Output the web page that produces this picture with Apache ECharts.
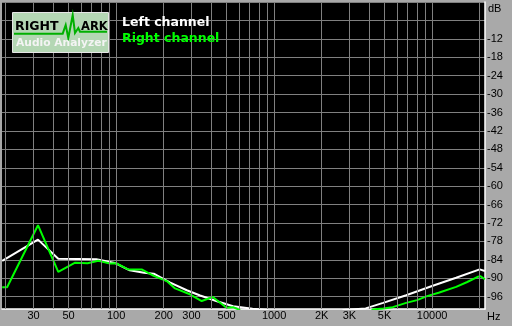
<!DOCTYPE html>
<html><head><meta charset="utf-8">
<script src="https://cdn.jsdelivr.net/npm/echarts@6/dist/echarts.min.js"></script>
<style>html,body{margin:0;padding:0;background:#a9a9a9}#c{width:512px;height:326px}</style>
</head><body><div id="c"></div>
<script>
// Left channel (white); values below -100 fall off the bottom of the plot
var leftFreq = [19, 32, 43, 75, 98, 122, 150, 173, 220, 280, 340, 430, 550, 730, 900, 1100, 2500, 2750, 3800, 4900, 6860, 10000, 14200, 20000, 21600];
var leftDb   = [-84.3, -77.4, -83.6, -83.8, -85.0, -87.4, -88.2, -88.5, -91.4, -93.9, -95.6, -97.4, -99.1, -99.9, -100.3, -103, -103, -100.3, -99.8, -98.0, -95.5, -92.5, -89.8, -87.1, -87.6];
// Right channel (green)
var rightFreq = [19, 20.4, 32, 43, 55, 66, 77, 91.5, 100, 119, 145, 173, 209, 236, 293, 348, 409, 500, 550, 598, 700, 3900, 4200, 4900, 5640, 6860, 8030, 9300, 11000, 14200, 16700, 19300, 20200, 21600];
var rightDb   = [-92.9, -92.9, -72.7, -87.9, -84.9, -85.1, -84.3, -85.2, -85.1, -87.1, -87.1, -89.2, -90.9, -93.3, -95.2, -97.4, -96.1, -99.6, -99.4, -100.2, -103, -103, -100.2, -99.8, -99.4, -98.0, -97.1, -95.8, -94.7, -92.8, -91.2, -89.6, -89.3, -90.3];
// axes
var xGridValues = [20,30,40,50,60,70,80,90,100,200,300,400,500,600,700,800,900,1000,2000,3000,4000,5000,6000,7000,8000,9000,10000,20000];
var xLabelValues = [30,50,100,200,300,500,1000,2000,3000,5000,10000];
var yGridValues = [0,-6,-12,-18,-24,-30,-36,-42,-48,-54,-60,-66,-72,-78,-84,-90,-96];
var yLabelValues = [-12,-18,-24,-30,-36,-42,-48,-54,-60,-66,-72,-78,-84,-90,-96];
var seriesNames = ['Left channel', 'Right channel'];

function pairs(f, v){ return f.map(function(x,i){ return [x, v[i]]; }); }
function xFmt(v){ if (v >= 2000 && v < 10000) return (v/1000) + 'K'; return String(v); }

var chart = echarts.init(document.getElementById('c'), null, {renderer:'canvas'});
var lblFont = {fontFamily:'Liberation Sans', fontSize:11, color:'#000'};
var gridStyle = {color:'#808080', width:1, type:'solid'};
chart.setOption({
  backgroundColor:'#a9a9a9',
  animation:false,
  grid:{left:2, top:2, right:27, bottom:17, show:true, backgroundColor:'#000', borderWidth:0},
  xAxis:{type:'log', logBase:10, min:18.94, max:21630,
    name:'Hz', nameLocation:'end', nameGap:2,
    nameTextStyle:{fontFamily:'Liberation Sans', fontSize:11, color:'#000', align:'left', verticalAlign:'top', padding:[2,0,0,0]},
    axisLine:{show:true, onZero:false, lineStyle:{color:'#fff', width:1.5}},
    axisTick:{show:false},
    axisLabel:Object.assign({customValues:xLabelValues, margin:1, formatter:xFmt}, lblFont),
    splitLine:{show:false},
    minorSplitLine:{show:false}
  },
  yAxis:{type:'value', min:-100, max:0, position:'right',
    name:'dB', nameLocation:'end', nameGap:0,
    nameTextStyle:{fontFamily:'Liberation Sans', fontSize:11, color:'#000', align:'left', verticalAlign:'top', padding:[1,0,0,3]},
    axisLine:{show:true, lineStyle:{color:'#fff', width:1.5}},
    axisTick:{show:false, customValues:yGridValues},
    axisLabel:Object.assign({customValues:yLabelValues, margin:2, formatter:function(v){return String(v);}}, lblFont),
    splitLine:{show:true, lineStyle:gridStyle}
  },
  graphic:[
    {type:'rect', shape:{x:12.5, y:12.5, width:96, height:40}, style:{fill:'#b4d7b4', stroke:'#e6e6e6', lineWidth:1}, z:100},
    {type:'polyline', shape:{points:[[14,33.7],[62.7,33.7],[65.7,25],[68.3,38],[72.7,15],[75,33],[78.3,28],[80,31.7],[107,31.7]]}, style:{stroke:'#00b000', lineWidth:2, fill:null}, z:101},
    {type:'text', x:15, y:27, style:{text:'RIGHT', font:'bold 12.5px "DejaVu Sans"', fill:'#000', textVerticalAlign:'middle'}, z:102},
    {type:'text', x:81, y:27, style:{text:'ARK', font:'bold 11.5px "DejaVu Sans"', fill:'#000', textVerticalAlign:'middle'}, z:102},
    {type:'text', x:16, y:43.5, style:{text:'Audio Analyzer', font:'bold 10.7px "DejaVu Sans"', fill:'#f4f4f4', textVerticalAlign:'middle', textShadowColor:'#7a8a7a', textShadowOffsetX:1, textShadowOffsetY:1, textShadowBlur:0}, z:102},
    {type:'text', x:122, y:23, style:{text:seriesNames[0], font:'bold 12.5px "DejaVu Sans"', fill:'#ffffff', textVerticalAlign:'middle'}, z:102},
    {type:'text', x:122, y:38.5, style:{text:seriesNames[1], font:'bold 12.5px "DejaVu Sans"', fill:'#00ff00', textVerticalAlign:'middle'}, z:102}
  ],
  series:[
    {name:'grid', type:'line', data:[], silent:true, z:1,
      markLine:{silent:true, symbol:'none', animation:false, label:{show:false}, lineStyle:gridStyle,
        data:xGridValues.map(function(v){ return {xAxis:v}; })}},
    {name:seriesNames[0], type:'line', data:pairs(leftFreq, leftDb), symbol:'none', clip:true, lineStyle:{color:'#ffffff', width:2}, z:3},
    {name:seriesNames[1], type:'line', data:pairs(rightFreq, rightDb), symbol:'none', clip:true, lineStyle:{color:'#00ff00', width:2}, z:4}
  ]
});
</script></body></html>
